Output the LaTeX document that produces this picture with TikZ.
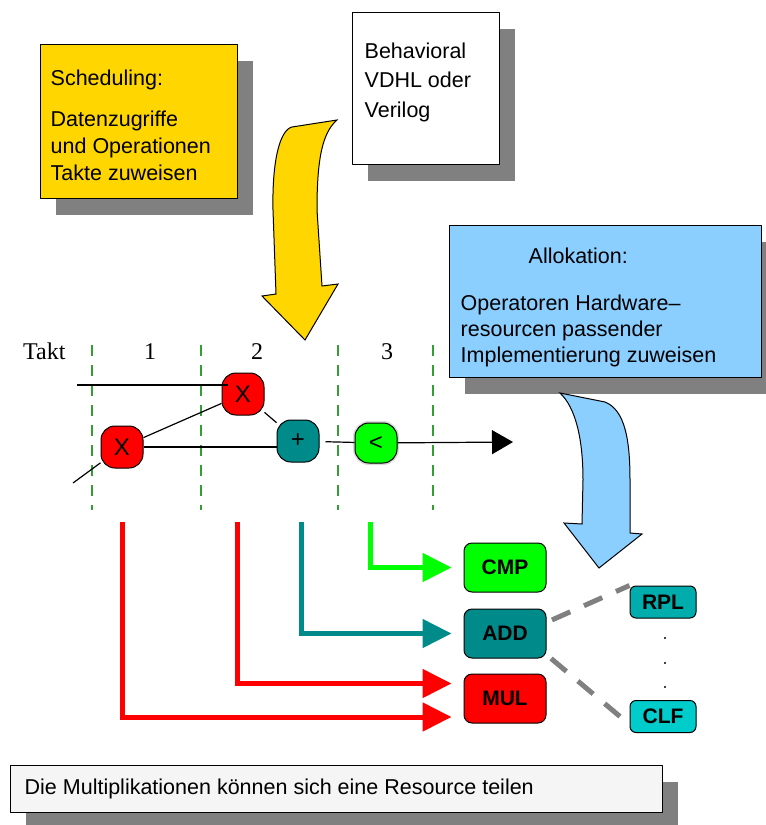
\documentclass[tikz,border=0pt]{standalone}
\usepackage{fontspec}
\setmainfont{Liberation Serif}
\setsansfont{Liberation Sans}
\usetikzlibrary{arrows.meta,shadows}

\begin{document}
\begin{tikzpicture}[x = 1pt,
                    y = -1pt,
                    line join = round]

  \useasboundingbox (0,0) rectangle (766,825);

  % COLORS
  \definecolor{schedcolor}{rgb}{ 1,0.84,0 }
  \definecolor{alloccolor}{rgb}{ 0.54,0.81,1 }
  \definecolor{shadecolor}{rgb}{ 0.5,0.5,0.5 }
  \definecolor{notecolor}{rgb}{ 0.96,0.96,0.96 }
  \definecolor{mulcolor}{rgb}{ 1,0,0 }
  \definecolor{addcolor}{rgb}{ 0,0.545,0.545 }
  \definecolor{cmpcolor}{rgb}{ 0,1,0 }
  \definecolor{rplcolor}{rgb}{ 0,0.68,0.68 }
  \definecolor{clfcolor}{rgb}{ 0,0.8,0.8 }
  \definecolor{taktcolor}{rgb}{ 0.2,0.62,0.2 }


  % STYLES
  \tikzstyle{boxstyle} = [draw=black, line width=1pt, inner sep=0pt, drop shadow={shadow xshift=16pt, shadow yshift=-17pt, fill=shadecolor, opacity=1}]
  \tikzstyle{textstyle} = [inner sep=0pt, align=left, anchor=north west]
  \tikzstyle{flowarrow} = [draw=black, line width=1pt, line join=miter]
  \tikzstyle{opstyle} = [draw=black, line width=1pt, rounded corners=14pt, minimum width=42pt, minimum height=42pt, inner sep=0pt, font=\sffamily\fontsize{24}{28}\selectfont]
  \tikzstyle{resstyle} = [draw=black, line width=1pt, rounded corners=8pt, minimum width=82pt, minimum height=49pt, inner sep=0pt, font=\sffamily\bfseries\fontsize{21}{25}\selectfont]
  \tikzstyle{unitstyle} = [resstyle, rounded corners=6pt, minimum width=66pt, minimum height=32pt]
  \tikzstyle{slotline} = [draw=taktcolor, line width=1.2pt, dash pattern=on 11pt off 9pt]
  \tikzstyle{wire} = [draw=black, line width=1.2pt]
  \tikzstyle{bindarrow} = [line width=5pt, line join=miter, -{Triangle[length=29pt, width=28pt]}, shorten >=12pt]
  \tikzstyle{shareline} = [draw=shadecolor, line width=5pt, dash pattern=on 20pt off 15pt]


  % BOXES
  \node[boxstyle, fill=schedcolor, minimum width=197pt, minimum height=154pt] (sched) at (138.5,121) {};
  \node[boxstyle, fill=white, minimum width=147pt, minimum height=152pt] (behav) at (425.5,88) {};
  \node[boxstyle, fill=alloccolor, minimum width=312pt, minimum height=152pt] (alloc) at (605,301) {};
  \node[boxstyle, fill=notecolor, minimum width=652pt, minimum height=47pt] (note) at (336,788.5) {};

  \node[textstyle, font=\sffamily\fontsize{21.5}{26.7}\selectfont] (schedtxt) at ([shift={(11,26)}]sched.north west)
    {Scheduling:\\[14.8pt]Datenzugriffe\\und Operationen\\Takte zuweisen};
  \node[textstyle, font=\sffamily\fontsize{21.5}{29.5}\selectfont] (behavtxt) at ([shift={(13,31)}]behav.north west)
    {Behavioral\\VDHL oder\\Verilog};
  \node[textstyle, font=\sffamily\fontsize{21.5}{26}\selectfont] (alloctxt) at ([shift={(12,23)}]alloc.north west)
    {\hspace*{68pt}Allokation:\\[21pt]Operatoren Hardware–\\resourcen passender\\Implementierung zuweisen};
  \node[textstyle, font=\sffamily\fontsize{21.5}{26}\selectfont] (notetxt) at ([shift={(15,14)}]note.north west)
    {Die Multiplikationen können sich eine Resource teilen};


  % CURVED ARROWS
  \filldraw[flowarrow, fill=schedcolor] (337,120) .. controls (322,133) and (317,160) .. (317,210) -- (322,286) -- (338,284) -- (305,340) -- (262,296) -- (276,294) -- (273,210) .. controls (272,160) and (280,130) .. (292,127) -- cycle;
  \filldraw[flowarrow, fill=alloccolor] (560,393) -- (605,402) .. controls (625,410) and (630,440) .. (630,480) -- (630,533) -- (642,534) -- (599,568) -- (564,523) -- (582,524) -- (583,480) .. controls (583,440) and (576,408) .. (560,393) -- cycle;


  % TAKTE
  \node[anchor=base west, inner sep=0pt, font=\fontsize{24}{28}\selectfont] (takt) at (23,359) {Takt};
  \foreach \n/\x in {1/150, 2/257, 3/387}
    \node[anchor=base, inner sep=0pt, font=\fontsize{24}{28}\selectfont] (takt\n) at (\x,359) {\n};
  \foreach \x in {92, 201, 338, 433}
    \draw[slotline] (\x,345) -- (\x,510);


  % DEF POINTS
  \coordinate (in1) at (77,385);
  \coordinate (in2) at (73,483);
  \coordinate (out) at (513,442);
  \coordinate (mul1src) at (122,522);
  \coordinate (mul2src) at (237,522);
  \coordinate (plussrc) at (301,522);
  \coordinate (lesssrc) at (370,522);


  % OPERATIONS
  \node[opstyle, fill=mulcolor] (mul1) at (122,447) {X};
  \node[opstyle, fill=mulcolor] (mul2) at (243,394) {X};
  \node[opstyle, fill=addcolor] (plus) at (298,441) {+};
  \node[opstyle, fill=cmpcolor, minimum height=40pt, preaction={draw=black!15, line width=4pt}] (less) at (376,443) {<};

  \draw[wire] (in1) -- ([xshift=6pt]in1 -| mul2.west);
  \draw[wire] (in2) -- (mul1);
  \draw[wire] (mul1) -- (mul2);
  \draw[wire] (mul1) -- (mul1 -| plus.west);
  \draw[wire] (mul2) -- (plus);
  \draw[wire, shorten <=6pt] (plus) -- (less);
  \draw[wire, -{Triangle[length=21pt, width=24pt]}] (less) -- (out);


  % RESOURCES
  \node[resstyle, fill=cmpcolor] (cmp) at (505,567.5) {CMP};
  \node[resstyle, fill=addcolor] (add) at (505,633.5) {ADD};
  \node[resstyle, fill=mulcolor] (mul) at (505,698.5) {MUL};
  \node[unitstyle, fill=rplcolor] (rpl) at (663,602) {RPL};
  \node[unitstyle, fill=clfcolor] (clf) at (663,716.5) {CLF};

  \foreach \y in {638, 663, 687}
    \fill (665,\y) circle (1.2pt);

  \draw[bindarrow, cmpcolor] (lesssrc) |- (cmp.west);
  \draw[bindarrow, addcolor] (plussrc) |- (add.west);
  \draw[bindarrow, mulcolor] (mul2src) |- ([yshift=15pt]mul.west);
  \draw[bindarrow, mulcolor] (mul1src) |- ([yshift=-18.5pt]mul.west);

  \draw[shareline, shorten <=6pt] (add.15) -- (rpl.north west);
  \draw[shareline, shorten <=6pt, shorten >=8pt] (add.-27) -- ([yshift=-8pt]clf.west);

\end{tikzpicture}
\end{document}
